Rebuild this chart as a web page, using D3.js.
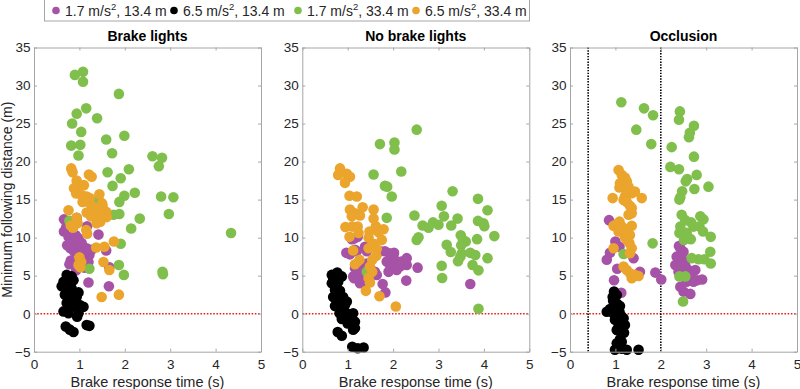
<!DOCTYPE html>
<html>
<head>
<meta charset="utf-8">
<script src="https://cdn.jsdelivr.net/npm/d3@7"></script>
<style>
  body { margin: 0; background: #fff; }
  text { font-family: "Liberation Sans", Arial, Helvetica, sans-serif; fill: #262626; }
</style>
</head>
<body>
<div id="chart"></div>
<script>
// series: [brake response time (s), minimum following distance (m)]
var titles = ["Brake lights", "No brake lights", "Occlusion"];
var seriesNames = [["1.7 m/s", ", 13.4 m"], ["6.5 m/s", ", 13.4 m"], ["1.7 m/s", ", 33.4 m"], ["6.5 m/s", ", 33.4 m"]];
var colors = ["#a653a7", "#000000", "#80bf4c", "#eba42c"];
var xTicks = [0, 1, 2, 3, 4, 5];
var yTicks = [-5, 0, 5, 10, 15, 20, 25, 30, 35];
var occlusionLines = [0.4, 2.0];

// Brake lights
var bl_a17_13 = [[0.66,12.4],[0.72,12.1],[0.94,12.6],[0.71,11.4],[0.66,10.8],[1.17,11.5],[1.42,10.4],[0.76,10.1],[0.87,9.7],[0.98,9.9],[1.05,9.3],[0.73,9.0],[0.80,8.6],[0.94,8.8],[0.88,8.2],[1.01,8.4],[1.09,7.9],[1.16,8.6],[1.22,7.7],[1.27,8.4],[0.81,7.0],[0.78,6.5],[0.89,6.6],[1.12,6.05],[1.20,6.8],[0.93,5.7],[1.59,8.3],[1.66,6.1],[1.20,4.1],[1.65,3.6],[0.85,9.3],[0.92,10.3]];
var bl_a65_13 = [[0.72,5.1],[0.83,4.9],[0.65,4.2],[0.76,4.0],[0.87,4.4],[0.61,3.6],[0.72,3.3],[0.83,3.3],[0.98,2.8],[0.68,2.5],[0.79,2.2],[0.94,2.2],[0.72,1.4],[0.87,1.15],[1.01,1.15],[0.83,0.9],[1.09,0.9],[0.65,0.3],[0.76,0.05],[0.98,0.05],[0.95,-0.4],[0.70,-1.7],[0.79,-2.1],[0.87,-2.4],[1.16,-1.5],[1.22,-1.6],[0.80,3.7],[0.90,1.8]];
var bl_a17_33 = [[0.90,31.4],[1.08,31.8],[1.08,30.5],[1.87,28.9],[1.15,27.0],[0.94,26.3],[1.39,25.7],[0.84,25.0],[1.04,23.9],[1.99,23.4],[1.59,22.9],[0.82,22.1],[1.02,22.2],[0.98,20.8],[1.72,21.1],[2.61,20.7],[2.82,20.5],[2.75,19.4],[2.09,19.0],[1.62,18.6],[1.91,17.8],[1.73,16.8],[2.22,15.9],[1.99,15.5],[1.88,14.7],[2.80,15.4],[3.07,15.3],[2.97,13.1],[2.33,12.5],[2.14,11.2],[1.88,13.1],[1.75,13.0],[4.34,10.6],[1.91,9.2],[1.87,6.4],[1.98,5.1],[2.83,5.5],[2.84,5.2],[1.22,5.9],[0.78,12.2],[1.42,15.0],[1.45,13.6]];
var bl_a65_33 = [[0.82,19.1],[0.85,18.6],[1.21,18.3],[1.27,18.0],[0.94,17.5],[0.95,16.8],[1.10,16.9],[0.88,16.5],[0.93,15.8],[1.44,15.7],[1.16,15.4],[1.05,15.6],[1.23,15.2],[1.07,14.7],[1.22,14.6],[1.50,14.5],[1.51,14.2],[1.29,14.1],[1.34,13.6],[0.76,13.6],[1.59,13.4],[1.16,13.3],[1.25,12.8],[1.34,13.0],[1.42,12.6],[1.53,13.0],[1.60,12.7],[1.46,12.1],[1.38,11.9],[0.94,12.6],[0.96,11.9],[0.81,11.6],[0.86,11.3],[1.15,11.0],[1.17,10.5],[1.76,9.5],[1.37,8.7],[1.55,8.8],[1.00,7.4],[1.04,6.8],[0.98,6.4],[1.02,6.1],[1.53,6.8],[1.66,5.75],[1.49,2.2],[1.87,2.5]];

// No brake lights
var nb_a17_13 = [[1.14,9.9],[1.22,10.1],[1.09,9.8],[0.97,8.0],[1.05,7.8],[1.16,8.4],[1.16,6.0],[1.14,4.65],[1.27,4.0],[1.34,4.2],[1.38,8.8],[1.42,8.2],[1.38,6.0],[1.42,6.6],[1.27,5.3],[1.12,4.9],[1.60,5.5],[1.64,5.1],[1.72,8.2],[1.82,8.2],[1.92,7.95],[2.02,8.0],[2.01,7.4],[1.86,6.85],[1.93,6.4],[2.04,6.6],[2.08,5.75],[1.90,5.5],[1.97,6.0],[2.18,6.85],[2.30,7.3],[2.30,6.4],[2.29,4.35],[2.54,6.05],[1.77,3.9],[1.83,2.8],[3.70,3.9],[1.20,8.2],[1.97,7.1],[2.15,6.2]];
var nb_a65_13 = [[0.65,5.1],[0.77,5.4],[0.87,4.9],[0.68,4.4],[0.79,4.2],[0.65,4.0],[0.74,3.6],[0.72,3.1],[0.83,3.0],[0.68,2.2],[0.90,2.2],[0.83,2.0],[0.76,1.7],[0.98,1.6],[0.94,1.15],[0.72,1.0],[0.87,0.9],[0.82,0.05],[0.98,0.05],[1.12,0.05],[0.94,-0.4],[1.05,-0.2],[0.87,-0.7],[1.00,-1.3],[1.16,-1.05],[1.16,-1.9],[1.12,-2.1],[0.78,-2.4],[0.87,-2.9],[1.10,-4.35],[1.22,-4.55],[1.35,-4.45]];
var nb_a17_33 = [[2.52,24.2],[1.71,22.3],[2.03,22.5],[2.03,21.6],[2.18,18.7],[1.57,18.3],[1.82,16.8],[1.87,16.7],[1.97,15.4],[3.31,16.1],[3.87,15.1],[3.07,14.2],[4.08,13.6],[1.86,12.6],[2.47,12.9],[3.12,12.8],[3.42,12.5],[3.87,12.2],[2.88,12.0],[2.65,11.6],[2.78,11.3],[3.00,11.7],[3.28,11.6],[3.99,11.9],[4.01,11.5],[4.23,10.2],[2.56,10.05],[2.52,9.7],[3.18,9.05],[3.49,10.3],[3.54,9.7],[3.60,9.5],[3.50,9.0],[3.85,9.8],[3.27,8.1],[3.51,7.9],[3.48,7.5],[3.43,6.9],[3.70,8.0],[3.81,7.7],[4.08,7.3],[3.07,6.3],[3.08,4.7],[3.75,6.4],[3.88,5.7],[3.88,0.65],[1.42,5.5]];
var nb_a65_33 = [[0.83,19.1],[0.79,18.25],[0.98,18.4],[1.05,18.0],[0.94,17.2],[1.04,15.5],[1.20,15.4],[1.05,13.7],[1.16,13.2],[1.27,12.9],[1.33,14.0],[1.57,13.7],[1.09,12.8],[0.95,11.4],[1.10,11.45],[1.22,11.45],[1.24,10.6],[1.04,10.1],[1.62,11.5],[1.79,11.1],[1.68,10.7],[1.48,10.8],[1.46,10.0],[1.75,9.7],[1.57,9.2],[1.64,8.5],[1.46,8.6],[1.12,8.3],[1.26,7.1],[1.16,6.5],[1.63,7.6],[1.54,7.1],[1.49,6.2],[1.54,5.5],[1.46,4.7],[1.49,4.1],[1.40,3.0],[1.70,2.3],[2.06,0.95],[1.57,12.5]];

// Occlusion
var oc_a17_13 = [[0.86,12.3],[0.88,8.0],[0.81,7.1],[1.09,8.8],[1.04,5.9],[0.97,4.4],[1.13,2.75],[1.40,7.3],[1.54,5.5],[1.88,5.4],[2.01,4.5],[2.43,8.6],[2.50,8.15],[2.35,7.5],[2.46,7.3],[2.32,6.4],[2.43,6.2],[2.54,6.3],[2.39,5.5],[2.50,5.3],[2.61,5.75],[2.68,5.3],[2.76,5.75],[2.65,4.65],[2.80,4.4],[2.91,4.5],[2.43,3.55],[2.50,2.9],[2.65,2.6],[2.72,4.2],[2.57,4.2],[2.40,8.9],[2.48,7.0],[1.00,9.5]];
var oc_a65_13 = [[0.97,2.9],[1.03,2.45],[0.94,2.2],[0.95,1.7],[1.04,1.3],[1.10,1.0],[0.88,0.6],[0.81,0.25],[0.95,0.05],[1.09,0.25],[1.03,-0.15],[1.13,-0.3],[0.99,-0.8],[1.18,-0.6],[1.14,-1.05],[1.21,-1.5],[1.07,-1.7],[1.03,-2.15],[1.19,-2.5],[1.10,-3.35],[1.14,-3.7],[1.03,-3.9],[1.04,-4.3],[0.99,-4.75],[1.14,-4.6],[1.25,-4.75],[1.51,-4.75]];
var oc_a17_33 = [[1.13,27.8],[1.63,27.0],[1.83,26.1],[1.46,24.2],[1.79,22.3],[2.42,26.6],[2.40,25.5],[2.73,24.7],[2.64,23.8],[2.62,23.2],[2.24,21.9],[2.73,20.65],[2.21,19.3],[2.40,19.0],[2.79,18.25],[2.58,17.7],[2.55,17.4],[3.05,16.7],[2.74,16.4],[2.47,16.1],[2.43,15.3],[2.41,15.0],[2.46,13.0],[2.54,12.3],[2.67,12.0],[2.87,12.8],[2.94,12.4],[2.85,11.5],[2.72,11.45],[2.43,11.45],[2.41,10.6],[2.57,10.65],[2.51,9.7],[2.66,9.8],[2.93,10.8],[3.10,10.1],[3.09,8.15],[2.96,7.15],[2.83,7.15],[2.68,7.3],[3.10,6.6],[2.41,4.9],[2.54,4.9],[2.49,1.6],[1.82,9.25],[1.18,7.85]];
var oc_a65_33 = [[1.07,18.9],[1.14,18.25],[1.21,17.9],[1.25,17.4],[1.10,17.15],[1.18,16.9],[1.09,16.6],[1.21,16.5],[1.29,16.7],[1.29,15.9],[1.21,15.4],[1.18,14.95],[1.36,15.85],[1.43,16.05],[1.58,15.2],[0.94,15.2],[1.25,14.7],[1.32,14.2],[1.29,13.0],[1.36,13.2],[0.96,11.55],[1.03,11.8],[1.09,12.1],[1.14,11.45],[1.07,10.8],[1.18,10.6],[1.25,11.1],[1.32,10.35],[1.36,11.55],[1.21,10.05],[1.25,9.7],[1.31,9.25],[1.36,8.6],[0.96,8.6],[1.32,7.95],[1.18,6.2],[1.25,5.75],[1.32,5.3],[1.36,4.65],[1.43,5.1],[1.51,4.95],[1.36,13.9]];

var panelData = [
  [bl_a17_13, bl_a65_13, bl_a17_33, bl_a65_33],
  [nb_a17_13, nb_a65_13, nb_a17_33, nb_a65_33],
  [oc_a17_13, oc_a65_13, oc_a17_33, oc_a65_33]
];

var W = 800, H = 389;
var panelLeft = [34, 302.3, 570],
    panelWidth = 227,
    plotTop = 47.5,
    plotHeight = 304.2;

var svg = d3.select("#chart").append("svg")
    .attr("width", W)
    .attr("height", H);

var axisColor = "#a6a6a6";

panelData.forEach(function(series, p) {
  var x = d3.scaleLinear().domain([0, 5]).range([0, panelWidth]);
  var y = d3.scaleLinear().domain([-5, 35]).range([plotHeight, 0]);

  var g = svg.append("g")
      .attr("transform", "translate(" + panelLeft[p] + "," + plotTop + ")");

  // zero reference line
  g.append("line")
      .attr("x1", 0).attr("x2", panelWidth)
      .attr("y1", y(0)).attr("y2", y(0))
      .attr("stroke", "#e8231f")
      .attr("stroke-width", 1.6)
      .attr("stroke-dasharray", "1.6,1.6");

  // occlusion window
  if (p == 2) {
    occlusionLines.forEach(function(v) {
      g.append("line")
          .attr("x1", x(v)).attr("x2", x(v))
          .attr("y1", 0).attr("y2", plotHeight)
          .attr("stroke", "#000")
          .attr("stroke-width", 1.6)
          .attr("stroke-dasharray", "1.4,1.4");
    });
  }

  // points, in legend order
  series.forEach(function(pts, s) {
    g.append("g").selectAll("circle")
        .data(pts)
      .enter().append("circle")
        .attr("cx", function(d) { return x(d[0]); })
        .attr("cy", function(d) { return y(d[1]); })
        .attr("r", 5.3)
        .attr("fill", colors[s]);
  });

  // axes with inward ticks on all four sides
  var xAxis = d3.axisBottom(x).tickValues(xTicks).tickFormat(d3.format("d")).tickSizeInner(-3).tickSizeOuter(0).tickPadding(8);
  var yAxis = d3.axisLeft(y).tickValues(yTicks).tickFormat(d3.format("d")).tickSizeInner(-3).tickSizeOuter(0).tickPadding(3.5);
  var xTop = d3.axisTop(x).tickValues(xTicks).tickSizeInner(-3).tickSizeOuter(0).tickFormat("");
  var yRight = d3.axisRight(y).tickValues(yTicks).tickSizeInner(-3).tickSizeOuter(0).tickFormat("");

  var gx = g.append("g").attr("transform", "translate(0," + plotHeight + ")").call(xAxis);
  var gy = g.append("g").call(yAxis);
  var gt = g.append("g").call(xTop);
  var gr = g.append("g").attr("transform", "translate(" + panelWidth + ",0)").call(yRight);

  [gx, gy, gt, gr].forEach(function(a) {
    a.select(".domain").attr("stroke", axisColor);
    a.selectAll(".tick line").attr("stroke", axisColor);
    a.selectAll(".tick text")
        .attr("fill", "#262626")
        .style("font-size", "13.5px")
        .style("font-family", "'Liberation Sans', Arial, sans-serif");
  });

  g.append("text")
      .attr("x", panelWidth / 2)
      .attr("y", -7)
      .attr("text-anchor", "middle")
      .style("font-size", "14px")
      .style("font-weight", "bold")
      .style("fill", "#000")
      .text(titles[p]);

  g.append("text")
      .attr("x", panelWidth / 2)
      .attr("y", plotHeight + 35)
      .attr("text-anchor", "middle")
      .style("font-size", "14.5px")
      .text("Brake response time (s)");
});

svg.append("text")
    .attr("transform", "translate(12," + (plotTop + plotHeight / 2) + ") rotate(-90)")
    .attr("text-anchor", "middle")
    .style("font-size", "14px")
    .text("Minimum following distance (m)");

// legend
var legend = svg.append("g");
legend.append("rect")
    .attr("x", 44.5).attr("y", -5)
    .attr("width", 485).attr("height", 26)
    .attr("fill", "#fff")
    .attr("stroke", axisColor);

var legendX = [56, 174, 298, 416];
seriesNames.forEach(function(n, i) {
  legend.append("circle")
      .attr("cx", legendX[i]).attr("cy", 10.5)
      .attr("r", 3.8)
      .attr("fill", colors[i]);
  var t = legend.append("text")
      .attr("x", legendX[i] + 9).attr("y", 16)
      .style("font-size", "14px");
  t.append("tspan").text(n[0]);
  t.append("tspan").attr("dy", -6).style("font-size", "9.5px").text("2");
  t.append("tspan").attr("dy", 6).text(n[1]);
});
</script>
</body>
</html>
